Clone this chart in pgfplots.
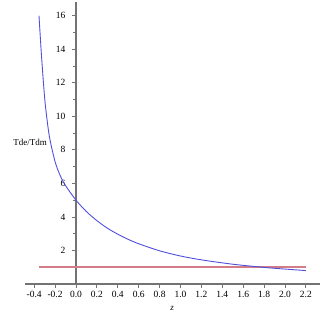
\documentclass[border=0pt]{standalone}
\usepackage{pgfplots}
\pgfplotsset{compat=1.18}
\usepackage{fontspec}
\setmainfont{Liberation Serif}
\definecolor{curveblue}{RGB}{80,80,220}
\definecolor{linered}{RGB}{210,125,135}
\definecolor{axisgray}{RGB}{115,115,115}
\begin{document}
\begin{tikzpicture}[x=1pt,y=1pt]
\begin{axis}[
  scale only axis,
  width=295pt, height=282pt,
  xmin=-0.488, xmax=2.335,
  ymin=0, ymax=16.82,
  axis lines=middle,
  axis line style={axisgray, line width=1.2pt, -},
  every outer x axis line/.append style={-},
  every outer y axis line/.append style={-},
  hide obscured x ticks=false,
  hide obscured y ticks=false,
  tick align=outside,
  tick style={axisgray, line width=0.8pt},
  major tick length=4pt,
  minor tick length=2.5pt,
  xtick={-0.4,-0.2,0,0.2,0.4,0.6,0.8,1.0,1.2,1.4,1.6,1.8,2.0,2.2},
  ytick={2,4,6,8,10,12,14,16},
  minor ytick={1,3,5,7,9,11,13,15},
  xticklabel style={/pgf/number format/fixed, /pgf/number format/precision=1, /pgf/number format/fixed zerofill},
  /pgf/number format/assume math mode=true,
  yticklabel style={xshift=-3pt},
  ticklabel style={font=\fontsize{9.5}{10}\selectfont, text=black},
  xlabel={\textit{z}},
  xlabel style={at={(axis cs:0.92,-1.45)}, anchor=center, font=\fontsize{9}{10}\selectfont},
  ylabel={Tde/Tdm},
  ylabel style={at={(axis cs:-0.44,8.45)}, anchor=center, rotate=0, font=\fontsize{9}{10}\selectfont},
  clip=false,
]
\addplot[draw=linered, line width=1.5pt, mark=none] table {
x y
-0.354 1
2.2 1
};
\addplot[color=curveblue, line width=0.9pt, smooth] coordinates {
(-0.354,16) (-0.33,13.6) (-0.3,11.1) (-0.275,9.7) (-0.25,8.64) (-0.2,7.29)
(-0.15,6.45) (-0.1,5.87) (0,5) (0.1,4.32) (0.2,3.78) (0.3,3.33) (0.4,2.97)
(0.5,2.66) (0.6,2.40) (0.8,1.98) (1.0,1.67) (1.2,1.44) (1.5,1.18) (1.8,0.99)
(2.0,0.89) (2.2,0.80)};
\coordinate (bl) at (rel axis cs:0,0);
\coordinate (tr) at (rel axis cs:1,1);
\end{axis}
\pgfresetboundingbox
\path (tr) ++(7pt,2pt) coordinate (tr2);
\path[use as bounding box] (bl) ++(-25pt,-31pt) rectangle (tr2);
\end{tikzpicture}
\end{document}
